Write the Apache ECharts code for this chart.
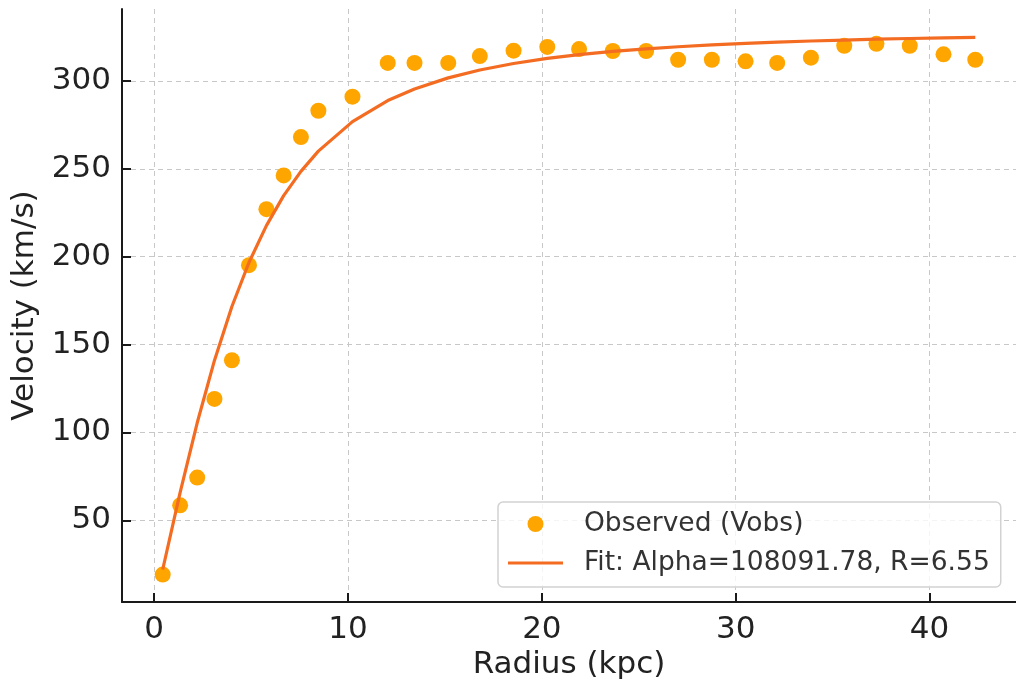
<!DOCTYPE html>
<html>
<head>
<meta charset="utf-8">
<script src="https://cdn.jsdelivr.net/npm/echarts@6/dist/echarts.min.js"></script>
<style>
html,body{margin:0;padding:0;background:#fff;}
#chart{width:1016px;height:686px;}
</style>
</head>
<body>
<div id="chart"></div>
<script>
const radius = [0.44,1.34,2.22,3.11,4.01,4.89,5.79,6.68,7.57,8.47,10.23,12.05,13.43,15.17,16.80,18.54,20.28,21.92,23.66,25.38,27.03,28.77,30.51,32.14,33.88,35.60,37.26,38.98,40.72,42.36];
const vObs = [19.1,58.5,74.3,119.1,141.1,195.2,227.1,246.3,268.1,283.1,291.1,310.3,310.3,310.3,314.2,317.3,319.4,318.2,317.1,317.1,312.1,312.1,311.2,310.3,313.3,320.1,321.2,320.1,315.2,312.1];
const vFit = [22.0,65.9,105.5,141.0,171.7,196.7,217.7,234.8,248.6,260.1,276.9,288.9,295.5,301.8,306.3,310.0,312.9,315.0,316.9,318.3,319.5,320.6,321.4,322.1,322.8,323.3,323.8,324.2,324.6,324.9];
const xTicks = [0,10,20,30,40];
const yTicks = [50,100,150,200,250,300];
const obsName = 'Observed (Vobs)';
const fitName = 'Fit: Alpha=108091.78, R=6.55';

const FONT = 'DejaVu Sans';
const chart = echarts.init(document.getElementById('chart'), null, {renderer:'canvas'});
const gridLine = {show:true, lineStyle:{color:'#c8c8c8', width:1, type:[5,4]}};
chart.setOption({
  animation:false,
  textStyle:{fontFamily:FONT},
  grid:{left:122, right:0, top:9, bottom:84, containLabel:false, outerBoundsMode:'none'},
  xAxis:{
    type:'value', min:-1.66, max:44.46,
    name:'Radius (kpc)', nameLocation:'middle', nameGap:47,
    nameTextStyle:{fontFamily:FONT, fontSize:31, color:'#222'},
    axisLine:{show:true, onZero:false, lineStyle:{color:'#1a1a1a', width:2}},
    axisTick:{show:true, inside:true, length:9, lineStyle:{color:'#1a1a1a', width:2}, customValues:xTicks},
    axisLabel:{customValues:xTicks, fontFamily:FONT, fontSize:31, color:'#222', margin:12},
    splitLine:gridLine
  },
  yAxis:{
    type:'value', min:3.5, max:341,
    name:'Velocity (km/s)', nameLocation:'middle', nameGap:74,
    nameTextStyle:{fontFamily:FONT, fontSize:31, color:'#222'},
    axisLine:{show:true, onZero:false, lineStyle:{color:'#1a1a1a', width:2}},
    axisTick:{show:true, inside:true, length:9, lineStyle:{color:'#1a1a1a', width:2}, customValues:yTicks},
    axisLabel:{customValues:yTicks, fontFamily:FONT, fontSize:31, color:'#222', margin:11},
    splitLine:gridLine
  },
  legend:{
    left:498, top:502, orient:'vertical',
    itemWidth:55, itemHeight:16, itemGap:9,
    padding:[7,11,9,10],
    backgroundColor:'rgba(255,255,255,0.8)',
    borderColor:'#d2d2d2', borderWidth:1.5, borderRadius:5,
    textStyle:{fontFamily:FONT, fontSize:26.5, color:'#333', lineHeight:30, padding:[0,0,0,16]},
    data:[
      {name:obsName, icon:'circle'},
      {name:fitName, icon:'path://M0,0 L55,0 L55,3.2 L0,3.2 Z'}
    ]
  },
  series:[
    {
      name:obsName, type:'scatter', symbol:'circle', symbolSize:16,
      itemStyle:{color:'#ffa500', opacity:1}, z:2,
      data:radius.map((r,i)=>[r, vObs[i]])
    },
    {
      name:fitName, type:'line', symbol:'none', showSymbol:false,
      lineStyle:{color:'#f36c22', width:3.2}, itemStyle:{color:'#f36c22'}, z:3,
      data:radius.map((r,i)=>[r, vFit[i]])
    }
  ]
});
</script>
</body>
</html>
